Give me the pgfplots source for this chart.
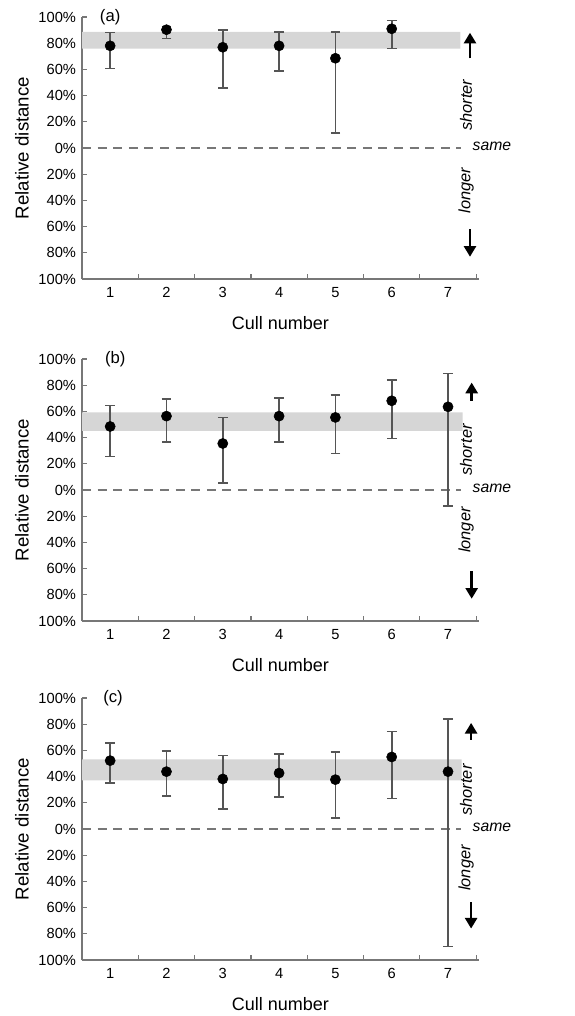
\documentclass[border=0pt]{standalone}
\usepackage{pgfplots}
\pgfplotsset{compat=1.18}
\usepackage{fontspec}
\setmainfont{Liberation Sans}
\usetikzlibrary{arrows.meta}

\definecolor{axisgray}{HTML}{777777}
\definecolor{bandgray}{HTML}{D6D6D6}
\definecolor{bargray}{HTML}{555555}

\pgfplotsset{
  panel/.style={
    anchor=south west,
    width=297.75pt, height=196.5pt,
    scale only axis,
    clip=false,
    xmin=0.5, xmax=7.55,
    ymin=-100, ymax=100,
    axis lines*=left,
    axis line style={axisgray, line width=1.3pt},
    xtick={1,...,7},
    major x tick style={draw=none},
    minor xtick={1.5,2.5,...,7.5},
    minor tick length=3.75pt,
    minor x tick style={axisgray, line width=0.9pt},
    ytick={-100,-80,...,100},
    yticklabels={100\%,80\%,60\%,40\%,20\%,0\%,20\%,40\%,60\%,80\%,100\%},
    major tick length=3.75pt,
    major y tick style={axisgray, line width=0.9pt},
    tick align=inside,
    /pgf/number format/assume math mode=true,
    tick label style={font=\fontsize{11}{12}\selectfont, black},
    yticklabel style={xshift=-1pt},
    xticklabel style={yshift=-3pt},
    xlabel={Cull number},
    ylabel={Relative distance},
    label style={font=\fontsize{13.5}{15}\selectfont},
    xlabel style={at={(axis description cs:0.5,-0.168)}, anchor=center},
    ylabel style={at={(axis description cs:-0.151,0.5)}, anchor=center, font=\fontsize{14}{16}\selectfont},
  },
  band/.style={draw=none, fill=bandgray, forget plot},
  zero/.style={axisgray, dash pattern=on 6.7pt off 5pt, line width=1.3pt, forget plot},
  pts/.style={
    only marks, mark=*, mark size=3.8pt, black,
    error bars/.cd, y dir=both, y explicit,
    error bar style={bargray, line width=1.3pt},
    error mark options={bargray, rotate=90, mark size=3.6pt, line width=1.2pt},
  },
}

\newcommand{\notes}[6]{%
  \draw[-{Triangle[length=8pt,width=9pt]}, line width=1.9pt] (axis cs:#1,#2) -- (axis cs:#1,#3);
  \draw[-{Triangle[length=8pt,width=9pt]}, line width=1.9pt] (axis cs:#1,#4) -- (axis cs:#1,#5);
  \node[rotate=90, font=\fontsize{12.3}{14}\itshape] at (axis cs:7.32,#6) {shorter};
  \node[rotate=90, font=\fontsize{12.3}{14}\itshape] at (axis cs:7.32,-#6) {longer};
  \node[font=\fontsize{11.8}{13}\itshape] at (axis cs:7.78,1.5) {same};
}

\begin{document}
\begin{tikzpicture}
\path[use as bounding box] (0,0) rectangle (430.5pt,-762pt);

% (a)
\begin{axis}[panel, at={(61.5pt,-209.25pt)}]
\addplot[band] coordinates {(0.5,75.9) (7.22,75.9) (7.22,88.7) (0.5,88.7) (0.5,75.9)};
\addplot[zero] coordinates {(0.5,0) (7.23,0)};
\addplot[pts] coordinates {
  (1,78) += (0,10.2) -= (0,17.2)
  (2,90.3) += (0,2.5) -= (0,6.7)
  (3,76.9) += (0,13.4) -= (0,31.0)
  (4,78) += (0,10.7) -= (0,19.0)
  (5,68.5) += (0,20.2) -= (0,57.0)
  (6,91) += (0,6.2) -= (0,15.1)
};
\node[font=\fontsize{12.5}{14}\selectfont] at (axis cs:1.0,100) {(a)};
\notes{7.39}{68.5}{88}{-62}{-83}{32.6}
\end{axis}

% (b)
\begin{axis}[panel, at={(61.5pt,-465.75pt)}]
\addplot[band] coordinates {(0.5,45.2) (7.26,45.2) (7.26,59.2) (0.5,59.2) (0.5,45.2)};
\addplot[zero] coordinates {(0.5,0) (7.23,0)};
\addplot[pts] coordinates {
  (1,48.5) += (0,16.0) -= (0,23.0)
  (2,56.4) += (0,13.2) -= (0,19.7)
  (3,35.5) += (0,19.9) -= (0,30.1)
  (4,56.4) += (0,14.0) -= (0,19.7)
  (5,55.4) += (0,17.3) -= (0,27.6)
  (6,68.1) += (0,15.8) -= (0,28.8)
  (7,63.5) += (0,25.3) -= (0,75.5)
};
\node[font=\fontsize{12.5}{14}\selectfont] at (axis cs:1.09,100) {(b)};
\notes{7.42}{68}{82}{-62}{-83}{30.6}
\end{axis}

% (c)
\begin{axis}[panel, at={(61.5pt,-720pt)}]
\addplot[band] coordinates {(0.5,37.2) (7.24,37.2) (7.24,53.2) (0.5,53.2) (0.5,37.2)};
\addplot[zero] coordinates {(0.5,0) (7.23,0)};
\addplot[pts] coordinates {
  (1,52.2) += (0,13.4) -= (0,17.1)
  (2,43.8) += (0,15.7) -= (0,18.6)
  (3,38.2) += (0,17.8) -= (0,22.7)
  (4,42.7) += (0,14.6) -= (0,18.3)
  (5,37.7) += (0,21.1) -= (0,29.3)
  (6,55) += (0,19.3) -= (0,31.6)
  (7,43.8) += (0,40.4) -= (0,133.4)
};
\node[font=\fontsize{12.5}{14}\selectfont] at (axis cs:1.05,100) {(c)};
\notes{7.41}{68}{81}{-56}{-76}{29.8}
\end{axis}
\end{tikzpicture}
\end{document}
